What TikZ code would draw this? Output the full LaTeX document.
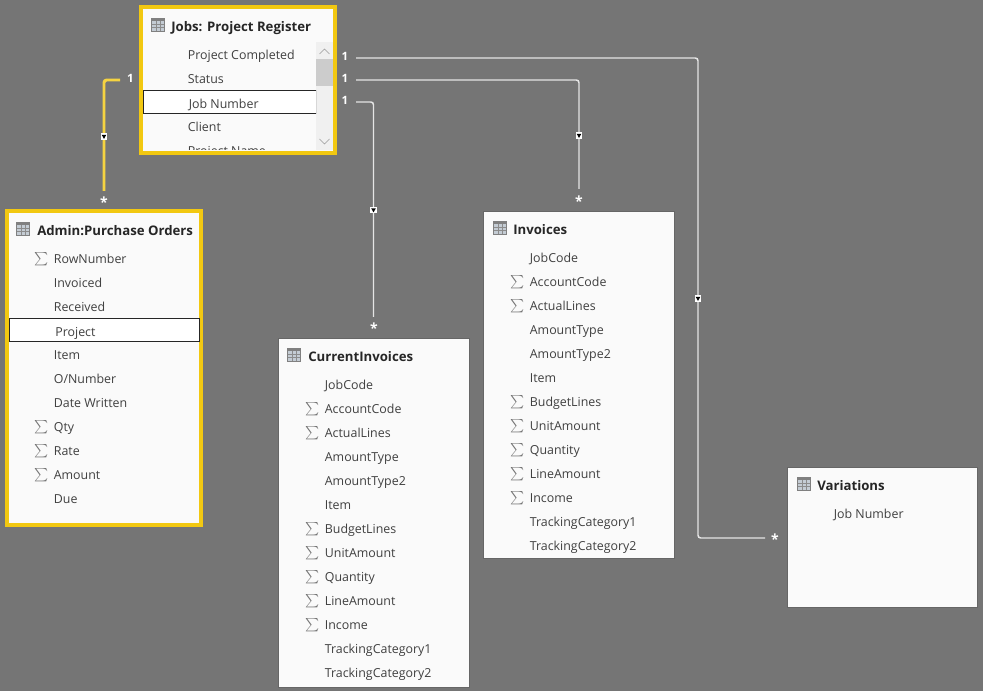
\documentclass[tikz,border=0pt]{standalone}
\usepackage{xcolor}
\usepackage{fontspec}
\setmainfont{Open Sans}
\definecolor{canvas}{HTML}{757575}
\definecolor{panel}{HTML}{FAFAFA}
\definecolor{selectyellow}{HTML}{F2C811}
\definecolor{fieldtext}{HTML}{404040}
\definecolor{iconcell}{HTML}{C4CCD4}
\tikzset{tableicon/.pic={
  \fill[black!50] (-6.7,-6.7) rectangle (6.7,6.7);
  \fill[iconcell] (-5.7,-3.7) rectangle (5.7,5.7);
  \draw[black!45,line width=0.35pt] (-2,-3.7) -- (-2,5.7) (2,-3.7) -- (2,5.7) (-5.7,-0.5) -- (5.7,-0.5) (-5.7,2.6) -- (5.7,2.6);
}}

\begin{document}
\begin{tikzpicture}[x=0.75pt,y=-0.75pt]
\tikzstyle{tablebox}=[rectangle,draw=black!60,line width=0.75pt,fill=panel,anchor=north west,inner sep=0pt,outer sep=0pt]
\tikzstyle{picked}=[tablebox,draw=selectyellow,line width=3pt]
\tikzstyle{title}=[anchor=base west,inner sep=0pt,yshift=-0.6pt,font=\fontsize{9.9}{12}\selectfont\bfseries,text=black!85]
\tikzstyle{field}=[anchor=base west,inner sep=0pt,yshift=-0.6pt,xshift=-0.3pt,font=\fontsize{9.3}{12}\selectfont,text=fieldtext]
\tikzstyle{sigma}=[anchor=center,inner sep=0pt,xshift=0.6pt,yshift=-0.6pt,text=black!55]
\tikzstyle{rowbox}=[rectangle,draw=black!85,line width=0.75pt,fill=white,anchor=north west,inner sep=0pt,outer sep=0pt]
\tikzstyle{one}=[inner sep=0pt,text=white,font=\fontsize{8.6}{10}\selectfont\bfseries]
\tikzstyle{many}=[inner sep=0pt,text=white,font=\fontsize{10.5}{12}\selectfont\bfseries]
\tikzstyle{link}=[draw=black!10,line width=1.1pt,rounded corners=2pt]
\tikzstyle{filtermark}=[rectangle,fill=white,minimum size=5.2pt,inner sep=0pt,path picture={
  \fill[black] (path picture bounding box.center) ++(-1.7pt,1.2pt) -- ++(3.4pt,0) -- ++(-1.7pt,-3pt) -- cycle;}]

\useasboundingbox (0,0) rectangle (983,691);
\fill[canvas] (0,0) rectangle (983,691);

% Jobs table
\node[picked,minimum width=145.7pt,minimum height=109pt](Jobs) at (140.7,7.5){};
\pic at (158,25) {tableicon};
\node[title](JobsTitle) at (171,31){Jobs: Project Register};
\node[rectangle,fill=black!6,minimum width=12.75pt,minimum height=81pt,inner sep=0pt,outer sep=0pt,anchor=north west](JobsScroll) at (316,42){};
\node[rectangle,fill=black!20,minimum width=12.75pt,minimum height=20.25pt,inner sep=0pt,outer sep=0pt,anchor=north west](JobsThumb) at (316,59){};
\draw[black!40] (319.5,54) -- (324.5,49) -- (329.5,54);
\draw[black!40] (319.5,139) -- (324.5,144) -- (329.5,139);
\begin{scope}
\clip (142,42) rectangle (316,150);
\node[field](JobsCompleted) at (188,59){Project Completed};
\node[field](JobsStatus) at (188,83){Status};
\node[rowbox,minimum width=129.75pt,minimum height=17pt](JobsRow) at (143.5,91){};
\node[field](JobsNumber) at (189,108){Job Number};
\node[field](JobsClient) at (188,131){Client};
\node[field](JobsName) at (188,155){Project Name};
\end{scope}

% Admin table
\node[picked,minimum width=146pt,minimum height=234.8pt](Admin) at (6.7,211.5){};
\pic at (23,229) {tableicon};
\node[title](AdminTitle) at (37,235){Admin:Purchase Orders};
\node[sigma](AdminS1) at (41,258){$\sum$};
\node[field](AdminRowNumber) at (54,263){RowNumber};
\node[field](AdminInvoiced) at (54,287){Invoiced};
\node[field](AdminReceived) at (54,311){Received};
\node[rowbox,minimum width=142.5pt,minimum height=17pt](AdminRow) at (9.5,319){};
\node[field](AdminProject) at (55.5,336){Project};
\node[field](AdminItem) at (54,359){Item};
\node[field](AdminNumber) at (54,383){O/Number};
\node[field](AdminWritten) at (54,407){Date Written};
\node[sigma](AdminS2) at (41,426){$\sum$};
\node[field](AdminQty) at (54,431){Qty};
\node[sigma](AdminS3) at (41,450){$\sum$};
\node[field](AdminRate) at (54,455){Rate};
\node[sigma](AdminS4) at (41,474){$\sum$};
\node[field](AdminAmount) at (54,479){Amount};
\node[field](AdminDue) at (54,503){Due};

% CurrentInvoices table
\node[tablebox,minimum width=143pt,minimum height=261.75pt](Current) at (278.8,339){};
\pic at (294,355) {tableicon};
\node[title](CurrentTitle) at (308,361){CurrentInvoices};
\node[field](CurrentJobCode) at (325,389){JobCode};
\node[sigma](CurrentS1) at (312,408){$\sum$};
\node[field](CurrentAccount) at (325,413){AccountCode};
\node[sigma](CurrentS2) at (312,432){$\sum$};
\node[field](CurrentActual) at (325,437){ActualLines};
\node[field](CurrentType) at (325,461){AmountType};
\node[field](CurrentType2) at (325,485){AmountType2};
\node[field](CurrentItem) at (325,509){Item};
\node[sigma](CurrentS3) at (312,528){$\sum$};
\node[field](CurrentBudget) at (325,533){BudgetLines};
\node[sigma](CurrentS4) at (312,552){$\sum$};
\node[field](CurrentUnit) at (325,557){UnitAmount};
\node[sigma](CurrentS5) at (312,576){$\sum$};
\node[field](CurrentQuantity) at (325,581){Quantity};
\node[sigma](CurrentS6) at (312,600){$\sum$};
\node[field](CurrentLine) at (325,605){LineAmount};
\node[sigma](CurrentS7) at (312,624){$\sum$};
\node[field](CurrentIncome) at (325,629){Income};
\node[field](CurrentTrack1) at (325,653){TrackingCategory1};
\node[field](CurrentTrack2) at (325,677){TrackingCategory2};

% Invoices table
\node[tablebox,minimum width=143pt,minimum height=260pt](Invoices) at (483.8,212){};
\pic at (500,228) {tableicon};
\node[title](InvoicesTitle) at (513,234){Invoices};
\node[field](InvoicesJobCode) at (530,262){JobCode};
\node[sigma](InvoicesS1) at (517,281){$\sum$};
\node[field](InvoicesAccount) at (530,286){AccountCode};
\node[sigma](InvoicesS2) at (517,305){$\sum$};
\node[field](InvoicesActual) at (530,310){ActualLines};
\node[field](InvoicesType) at (530,334){AmountType};
\node[field](InvoicesType2) at (530,358){AmountType2};
\node[field](InvoicesItem) at (530,382){Item};
\node[sigma](InvoicesS3) at (517,401){$\sum$};
\node[field](InvoicesBudget) at (530,406){BudgetLines};
\node[sigma](InvoicesS4) at (517,425){$\sum$};
\node[field](InvoicesUnit) at (530,430){UnitAmount};
\node[sigma](InvoicesS5) at (517,449){$\sum$};
\node[field](InvoicesQuantity) at (530,454){Quantity};
\node[sigma](InvoicesS6) at (517,473){$\sum$};
\node[field](InvoicesLine) at (530,478){LineAmount};
\node[sigma](InvoicesS7) at (517,497){$\sum$};
\node[field](InvoicesIncome) at (530,502){Income};
\node[field](InvoicesTrack1) at (530,526){TrackingCategory1};
\node[field](InvoicesTrack2) at (530,550){TrackingCategory2};

% Variations table
\node[tablebox,minimum width=142.5pt,minimum height=105pt](Variations) at (787.8,468){};
\pic at (804,484) {tableicon};
\node[title](VariationsTitle) at (817,490){Variations};
\node[field](VariationsNumber) at (834,518){Job Number};

% relationship ends
\node[one](OneAdmin) at (130.5,78){1};
\node[many](ManyAdmin) at (104,202){*};
\node[one](OneVar) at (345,56){1};
\node[many](ManyVar) at (775,539){*};
\node[one](OneInv) at (345,78){1};
\node[many](ManyInv) at (579,201){*};
\node[one](OneCur) at (345,100){1};
\node[many](ManyCur) at (374,328){*};
\coordinate (AdminStart) at (120,80);
\coordinate (AdminEnd) at (104,191);
\coordinate (VarStart) at (356,58);
\coordinate (VarTurn) at (698,300);
\coordinate (VarEnd) at (765,538);
\coordinate (InvStart) at (356,80);
\coordinate (InvEnd) at (579,189);
\coordinate (CurStart) at (356,102);
\coordinate (CurEnd) at (373.5,317);

\draw[link,draw=selectyellow!80!white,line width=2.2pt] (AdminStart) -| (AdminEnd);
\draw[link] (VarStart) -| (VarTurn) |- (VarEnd);
\draw[link] (InvStart) -| (InvEnd);
\draw[link] (CurStart) -| (CurEnd);

\node[filtermark](FilterAdmin) at (104,136.5){};
\node[filtermark](FilterVar) at (698,298.5){};
\node[filtermark](FilterInv) at (579,135.5){};
\node[filtermark](FilterCur) at (373.5,210){};

\end{tikzpicture}
\end{document}
